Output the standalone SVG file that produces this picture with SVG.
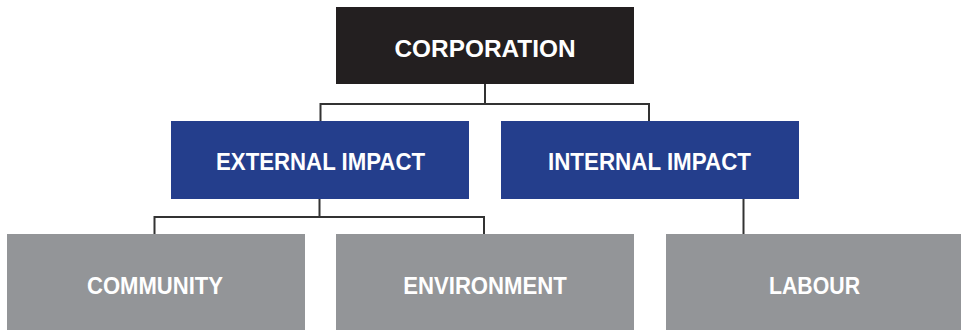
<svg xmlns="http://www.w3.org/2000/svg" width="961" height="330" viewBox="0 0 961 330">
<style>
.lbl{font-family:"Liberation Sans",Arial,sans-serif;font-weight:bold;font-size:24px;fill:#ffffff;text-anchor:middle}
.top{fill:#231f20}
.mid{fill:#243e8c}
.low{fill:#939598}
.con{fill:none;stroke:#333333;stroke-width:2}
</style>
<rect width="961" height="330" fill="#ffffff"/>
<g id="connectors">
<path class="con" d="M485,84 V104 M320.5,121 V104 H649 V121"/>
<path class="con" d="M319.5,199 V217 M154.5,234 V217 H484 V234"/>
<path class="con" d="M743.5,199 V234"/>
</g>
<g id="corporation">
<rect class="top" x="336" y="7" width="298" height="77"/>
<text class="lbl" x="485" y="56.5" textLength="181" lengthAdjust="spacingAndGlyphs">CORPORATION</text>
</g>
<g id="external">
<rect class="mid" x="171" y="121" width="298" height="78"/>
<text class="lbl" x="320.5" y="170.3" textLength="209" lengthAdjust="spacingAndGlyphs">EXTERNAL IMPACT</text>
</g>
<g id="internal">
<rect class="mid" x="501" y="121" width="298" height="78"/>
<text class="lbl" x="649.5" y="170.3" textLength="203" lengthAdjust="spacingAndGlyphs">INTERNAL IMPACT</text>
</g>
<g id="community">
<rect class="low" x="7" y="234" width="298" height="96"/>
<text class="lbl" x="155" y="293.5" textLength="136" lengthAdjust="spacingAndGlyphs">COMMUNITY</text>
</g>
<g id="environment">
<rect class="low" x="336" y="234" width="298" height="96"/>
<text class="lbl" x="485" y="293.5" textLength="163.5" lengthAdjust="spacingAndGlyphs">ENVIRONMENT</text>
</g>
<g id="labour">
<rect class="low" x="666" y="234" width="295" height="96"/>
<text class="lbl" x="814.5" y="293.5" textLength="91" lengthAdjust="spacingAndGlyphs">LABOUR</text>
</g>
</svg>
